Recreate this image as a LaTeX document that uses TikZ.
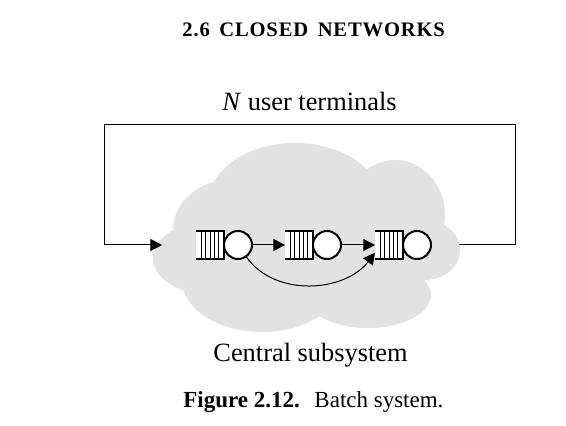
\documentclass[tikz,border=0pt]{standalone}
\usepackage{fontspec}
\setmainfont{Liberation Serif}
\newfontfamily\headfont[LetterSpace=4]{Liberation Serif}
\usetikzlibrary{arrows.meta,calc,positioning}
\definecolor{cloudgray}{RGB}{225,226,228}
\begin{document}
\begin{tikzpicture}[x=0.5pt,y=-0.5pt,
  conn/.style={line width=0.5pt,line join=miter,-{Triangle[length=5.8pt,width=6pt]}},
  buf/.style={fill=white,minimum width=14pt,minimum height=14pt,inner sep=0pt,outer sep=0pt},
  srv/.style={circle,draw,line width=1pt,fill=white,minimum size=14pt,inner sep=0pt,outer sep=0pt},
  lbl/.style={font=\fontsize{13.2}{15}\selectfont,inner sep=0pt,anchor=base west}]
\useasboundingbox (0,0) rectangle (566,426);
% cloud
\begin{scope}[fill=cloudgray]
\fill (295,200) ellipse [x radius=42.5pt,y radius=28.5pt];
\fill (395,215) ellipse [x radius=25pt,y radius=27.5pt];
\fill (230,230) ellipse [x radius=28.5pt,y radius=25pt];
\fill (215,258) ellipse [x radius=31pt,y radius=19pt];
\fill (262,280) ellipse [x radius=40pt,y radius=26pt];
\fill (368,295) ellipse [x radius=31.5pt,y radius=16.5pt];
\fill (425,250) ellipse [x radius=17.5pt,y radius=15pt];
\fill (310,255) ellipse [x radius=62.5pt,y radius=27.5pt];
\end{scope}
% queues
\foreach \n/\x in {1/210,2/299,3/389} {
  \node[buf] (b\n) at (\x,245) {};
  \node[srv,right=0pt of b\n] (s\n) {};
  \draw[line width=0.4pt] foreach \k in {0.2,0.35,0.5,0.65,0.8} {($(b\n.north west)!\k!(b\n.north east)$) -- ($(b\n.south west)!\k!(b\n.south east)$)};
  \draw[line width=1.1pt,line join=miter] (b\n.north west) -- (b\n.north east) -- (b\n.south east) -- (b\n.south west);
}
% connectors
\draw[conn] (s1) -- (b2);
\draw[conn] (s2) -- (b3);
\draw[conn] (s1.-55) .. controls (275,298) and (345,292) .. ($(b3.west)!0.55!(b3.south west)$);
\coordinate (outR) at (459,245);
\coordinate (inL) at (162,245);
\coordinate (topR) at (515,125);
\coordinate (topL) at (104,125);
\draw[conn] (outR) -| (topR) -- (topL) |- (inL);
% texts
\node[lbl,font=\headfont\bfseries\fontsize{10.3}{12}\selectfont] (head) at (182,37) {2.6\hspace{1.8pt} CLOSED\hspace{1.8pt} NETWORKS};
\node[lbl] (terms) at (222,111) {\textit{N} user terminals};
\node[lbl] (central) at (213,362) {Central subsystem};
\node[lbl,font=\fontsize{11.5}{14}\selectfont] (cap) at (183,407) {\textbf{Figure 2.12.}\hspace{0.3em} Batch system.};
\end{tikzpicture}
\end{document}
